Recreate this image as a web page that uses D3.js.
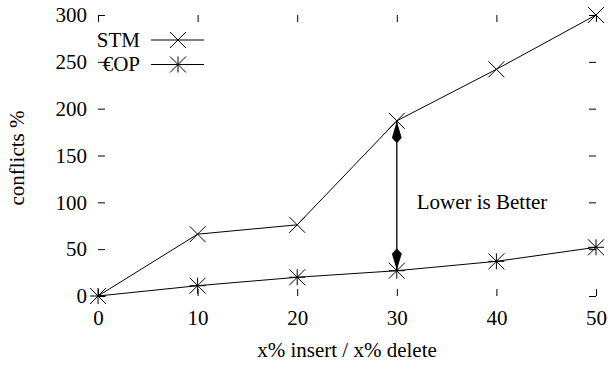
<!DOCTYPE html>
<html><head><meta charset="utf-8">
<script src="https://cdn.jsdelivr.net/npm/d3@7"></script>
<style>
html,body{margin:0;padding:0;background:#fff;}
svg{display:block;}
svg text{font-family:"Liberation Serif",serif !important;}
</style></head>
<body>
<svg id="chart" width="608" height="371"></svg>
<script>
const xValues = [0, 10, 20, 30, 40, 50];
const stmValues = [0, 66, 76, 187, 242, 300];
const copValues = [0, 11, 20, 27, 37, 52];
const seriesNames = ["STM", "€OP"];
const xTicks = [0, 10, 20, 30, 40, 50];
const yTicks = [0, 50, 100, 150, 200, 250, 300];
const arrowX = [30, 30];
const arrowY = [187, 27];
const noteText = "Lower is Better";
const notePos = [32, 100];
const xTitle = "x% insert / x% delete";
const yTitle = "conflicts %";

const FONT = "Liberation Serif";
const FS = 21;
const svg = d3.select("#chart");
const x = d3.scaleLinear().domain([0, 50]).range([98, 596]);
const y = d3.scaleLinear().domain([0, 300]).range([296, 15]);

function setFont(sel){
  return sel.attr("font-family", FONT).attr("font-size", FS).attr("fill","#000")
    .style("font-family", "'Liberation Serif', serif", "important");
}
function styleAxis(g){
  g.attr("font-family", FONT).attr("font-size", FS);
  g.select(".domain").remove();
  g.selectAll(".tick line").attr("stroke","#000").attr("stroke-width",1);
  setFont(g.selectAll(".tick text"));
}
svg.append("g").attr("transform",`translate(${x(0)},0)`)
  .call(d3.axisLeft(y).tickValues(yTicks).tickSize(-7).tickSizeOuter(0).tickPadding(11))
  .call(styleAxis);
svg.append("g").attr("transform",`translate(${x(50)},0)`)
  .call(d3.axisRight(y).tickValues(yTicks).tickSize(-7).tickSizeOuter(0).tickFormat(""))
  .call(styleAxis);
svg.append("g").attr("transform",`translate(0,${y(0)})`)
  .call(d3.axisBottom(x).tickValues(xTicks).tickSize(-7).tickSizeOuter(0).tickPadding(14))
  .call(styleAxis);
svg.append("g").attr("transform",`translate(0,${y(300)})`)
  .call(d3.axisTop(x).tickValues(xTicks).tickSize(-7).tickSizeOuter(0).tickFormat(""))
  .call(styleAxis);

// titles
setFont(svg.append("text")).attr("x", 347).attr("y", 357).attr("text-anchor","middle").text(xTitle);
setFont(svg.append("text")).attr("transform","translate(24,158) rotate(-90)").attr("text-anchor","middle").text(yTitle);

const line = d3.line().x(d=>x(d[0])).y(d=>y(d[1]));
const stm = xValues.map((v,i)=>[v, stmValues[i]]);
const cop = xValues.map((v,i)=>[v, copValues[i]]);
const S = 8;
function cross(g, cx, cy){
  g.append("path").attr("d",`M${cx-S},${cy-S}L${cx+S},${cy+S}M${cx-S},${cy+S}L${cx+S},${cy-S}`)
   .attr("stroke","#000").attr("stroke-width",1).attr("fill","none");
}
function star(g, cx, cy){
  cross(g,cx,cy);
  g.append("path").attr("d",`M${cx},${cy-S}L${cx},${cy+S}M${cx-S},${cy}L${cx+S},${cy}`)
   .attr("stroke","#000").attr("stroke-width",1).attr("fill","none");
}
const plot = svg.append("g");
plot.append("path").datum(stm).attr("d",line).attr("fill","none").attr("stroke","#000").attr("stroke-width",1);
plot.append("path").datum(cop).attr("d",line).attr("fill","none").attr("stroke","#000").attr("stroke-width",1);
stm.forEach(d=>cross(plot, x(d[0]), y(d[1])));
cop.forEach(d=>star(plot, x(d[0]), y(d[1])));

// arrow
const ax = x(arrowX[0]), ay1 = y(arrowY[0]), ay2 = y(arrowY[1]);
plot.append("line").attr("x1",ax).attr("x2",ax).attr("y1",ay1).attr("y2",ay2).attr("stroke","#000").attr("stroke-width",1.3);
function head(tipY, dir){
  const p = [[ax,tipY],[ax-4.5,tipY+dir*15],[ax,tipY+dir*20],[ax+4.5,tipY+dir*15]];
  plot.append("path").attr("d","M"+p.map(q=>q.join(",")).join("L")+"Z").attr("fill","#000").attr("stroke","#000").attr("stroke-width",0.8);
}
head(ay1+2, 1);
head(ay2-2, -1);
setFont(svg.append("text")).attr("x", x(notePos[0])).attr("y", y(notePos[1])).attr("dy","0.32em").text(noteText);

// legend
const leg = svg.append("g");
seriesNames.forEach((n,i)=>{
  const ly = 40 + i*24.5;
  setFont(leg.append("text")).attr("x",140).attr("y",ly).attr("dy","0.32em").attr("text-anchor","end").text(n);
  leg.append("line").attr("x1",151).attr("x2",204).attr("y1",ly).attr("y2",ly).attr("stroke","#000").attr("stroke-width",1);
  if(i===0) cross(leg,178,ly); else star(leg,178,ly);
});
</script>
</body></html>
